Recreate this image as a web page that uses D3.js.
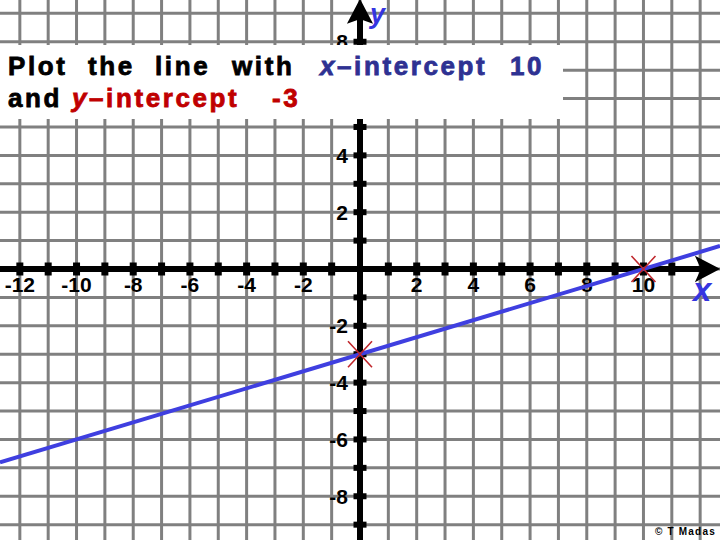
<!DOCTYPE html>
<html><head><meta charset="utf-8">
<script src="https://cdn.jsdelivr.net/npm/d3@7"></script>
<style>
html,body{margin:0;padding:0;background:#fff;}
svg{display:block;}
text{font-family:"Liberation Sans",Arial,sans-serif;}
</style></head>
<body>
<svg id="c" width="720" height="540"></svg>
<script>
// ---- data ----
const gridX = [-13,-12,-11,-10,-9,-8,-7,-6,-5,-4,-3,-2,-1,0,1,2,3,4,5,6,7,8,9,10,11,12];
const gridY = [-9,-8,-7,-6,-5,-4,-3,-2,-1,0,1,2,3,4,5,6,7,8,9];
const xTickVals = [-12,-11,-10,-9,-8,-7,-6,-5,-4,-3,-2,-1,1,2,3,4,5,6,7,8,9,10,11];
const yTickVals = [-9,-8,-7,-6,-5,-4,-3,-2,-1,1,2,3,4,5,6,7,8];
const xLabels = [-12,-10,-8,-6,-4,-2,2,4,6,8,10];
const yLabels = [-8,-6,-4,-2,2,4,6,8];
const xIntercept = [10];
const yIntercept = [-3];
const titleLine1 = [
  {t:"Plot", c:"#000", x:8}, {t:"the", c:"#000", x:88}, {t:"line", c:"#000", x:155},
  {t:"with", c:"#000", x:232}, {t:"x", c:"#2e3192", x:320, it:true},
  {t:"–intercept", c:"#2e3192", x:null}, {t:"10", c:"#2e3192", x:510}
];
const titleLine2 = [
  {t:"and", c:"#000", x:8}, {t:"y", c:"#c00000", x:72, it:true},
  {t:"–intercept", c:"#c00000", x:null}, {t:"-3", c:"#c00000", x:272}
];

// ---- scales ----
const W = 720, H = 540;
const x = d3.scaleLinear().domain([-12.7, 12.7]).range([0, W]);
const y = d3.scaleLinear().domain([9.47, -9.54]).range([0, H]);
const svg = d3.select("#c");

// grid
const gridCol = "#808080";
svg.append("g").selectAll("line").data(gridX).join("line")
  .attr("x1", d => x(d)).attr("x2", d => x(d)).attr("y1", 0).attr("y2", H)
  .attr("stroke", gridCol).attr("stroke-width", 3);
svg.append("g").selectAll("line").data(gridY).join("line")
  .attr("y1", d => y(d)).attr("y2", d => y(d)).attr("x1", 0).attr("x2", W)
  .attr("stroke", gridCol).attr("stroke-width", 3);

// axes
const ax = svg.append("g");
ax.append("line").attr("x1", 0).attr("x2", 702).attr("y1", y(0)).attr("y2", y(0))
  .attr("stroke", "#000").attr("stroke-width", 6);
ax.append("path").attr("d", `M718,${y(0)} L697,${y(0)-11} L702,${y(0)} L697,${y(0)+11} Z`)
  .attr("fill", "#000").attr("stroke", "#000").attr("stroke-width", 2);
ax.append("line").attr("x1", x(0)).attr("x2", x(0)).attr("y1", H).attr("y2", 18)
  .attr("stroke", "#000").attr("stroke-width", 6);
ax.append("path").attr("d", `M${x(0)},1 L${x(0)-11},22 L${x(0)},18 L${x(0)+11},22 Z`)
  .attr("fill", "#000").attr("stroke", "#000").attr("stroke-width", 2);

ax.append("g").selectAll("rect").data(xTickVals).join("rect")
  .attr("x", d => x(d) - 3.5).attr("y", y(0) - 6.5).attr("width", 7).attr("height", 13).attr("fill", "#000");
ax.append("g").selectAll("rect").data(yTickVals).join("rect")
  .attr("x", x(0) - 6.5).attr("y", d => y(d) - 3).attr("width", 13).attr("height", 6).attr("fill", "#000");

// labels
ax.append("g").selectAll("text").data(xLabels).join("text")
  .attr("x", d => x(d)).attr("y", y(0) + 23).attr("text-anchor", "middle")
  .attr("font-size", 21).attr("font-weight", "bold").attr("fill", "#000").text(d => d);
ax.append("g").selectAll("text").data(yLabels).join("text")
  .attr("x", x(0) - 12).attr("y", d => y(d) + 7.5).attr("text-anchor", "end")
  .attr("font-size", 21).attr("font-weight", "bold").attr("fill", "#000").text(d => d);

svg.append("text").attr("x", 693).attr("y", 301).attr("font-size", 33).attr("font-weight", "bold")
  .attr("font-style", "italic").attr("fill", "#3535e0").text("x");
svg.append("text").attr("x", 370).attr("y", 23).attr("font-size", 27).attr("font-weight", "bold")
  .attr("font-style", "italic").attr("fill", "#3535e0").text("y");

// the line through the two intercepts
const slope = (0 - yIntercept[0]) / (xIntercept[0] - 0);
const linePts = x.domain().map(v => [v, yIntercept[0] + slope * v]);
svg.append("path").datum(linePts)
  .attr("d", d3.line().x(d => x(d[0])).y(d => y(d[1])))
  .attr("stroke", "#3f3fe0").attr("stroke-width", 4).attr("fill", "none");

// crosses
const crossPts = [[xIntercept[0], 0], [0, yIntercept[0]]];
const cg = svg.append("g").selectAll("g").data(crossPts).join("g")
  .attr("transform", d => `translate(${x(d[0])},${y(d[1])})`);
cg.append("path").attr("d", "M-12,-13 L12,13 M-12,13 L12,-13")
  .attr("stroke", "#c0282d").attr("stroke-width", 1.6).attr("fill", "none");

// title box
svg.append("rect").attr("x", 0).attr("y", 45).attr("width", 563).attr("height", 74).attr("fill", "#fff");
function titleLine(parts, baseY) {
  const t = svg.append("text").attr("y", baseY).attr("font-size", 26).attr("font-weight", "bold")
    .attr("letter-spacing", 2.6);
  parts.forEach(p => {
    const s = t.append("tspan").attr("fill", p.c).attr("stroke", p.c).attr("stroke-width", 0.8)
      .attr("font-style", p.it ? "italic" : "normal").text(p.t);
    if (p.x !== null) s.attr("x", p.x);
  });
}
titleLine(titleLine1, 75);
titleLine(titleLine2, 107);

// copyright
svg.append("text").attr("x", 655).attr("y", 535).attr("font-size", 10).attr("font-weight", "bold")
  .attr("letter-spacing", 1.2).attr("fill", "#000").text("© T Madas");
</script>
</body></html>
